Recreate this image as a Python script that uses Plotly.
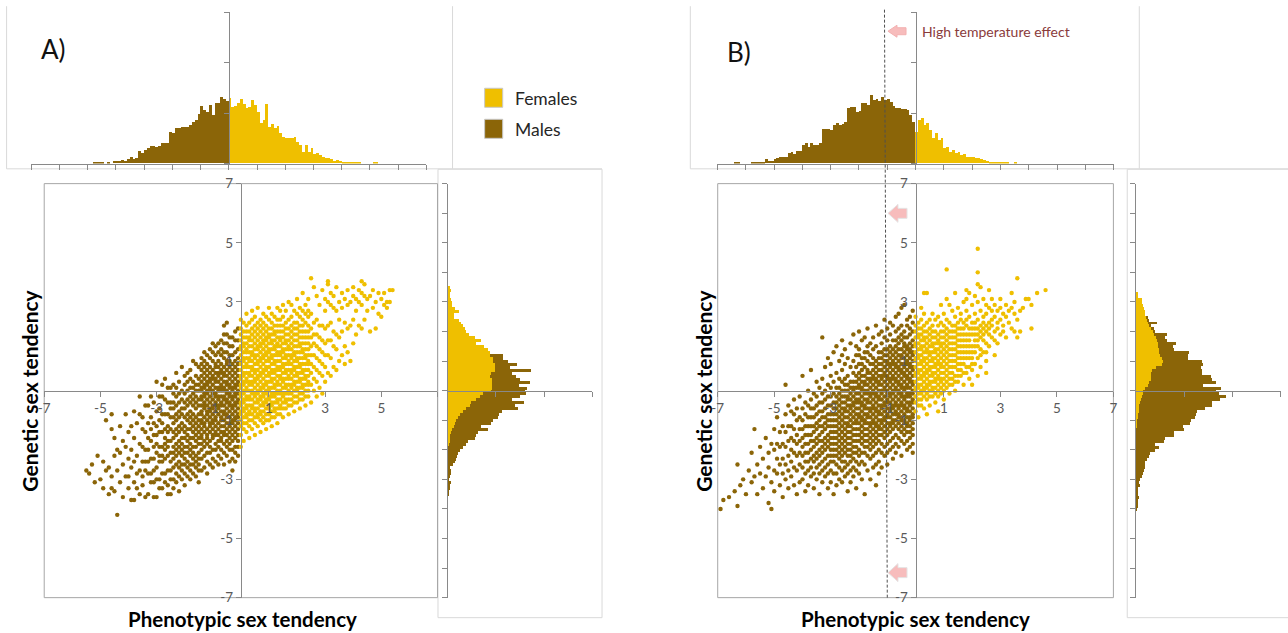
import numpy as np
import plotly.graph_objects as go

# figure size; the page is captured with an 8px body margin and slightly rescaled,
# so picture pixel T maps to figure pixel T/S - OFF
FW, FH = 1288, 633
OFF = 8
SX, SY = 0.989, 0.974

YELLOW = "#EFBF00"
BROWN = "#8B6508"
AXIS = "#898989"
FRAME = "#A6A6A6"
BOX = "#D9D9D9"
FONT = "Lato, 'Open Sans', sans-serif"

# ---------------- tick labels ----------------
SC_TICKS = [-7, -5, -3, -1, 1, 3, 5, 7]
A_X_TICKTEXT = ["-7", "-5", "-3", "-1", "1", "3", "5", ""]
B_X_TICKTEXT = ["-7", "-5", "-3", "-1", "1", "3", "5", "7"]
Y_TICKTEXT = ["-7", "-5", "-3", "-1", "1", "3", "5", "7"]

# ---------------- marginal histograms (bin width 0.1) ----------------
A_TOP_MALE_START = -4.8
A_TOP_MALE = [3, 3, 3, 2, 0, 3, 0, 8, 8, 8,
              10, 8, 12, 20, 12, 15, 37, 30, 40, 45,
              52, 52, 50, 52, 60, 60, 60, 95, 90, 105,
              105, 108, 110, 110, 115, 125, 130, 148, 172, 160,
              155, 175, 145, 180, 182, 200, 192, 188]
A_TOP_FEMALE_START = 0.0
A_TOP_FEMALE = [195, 168, 172, 180, 192, 178, 165, 168, 190, 175,
                155, 120, 130, 178, 110, 118, 105, 112, 92, 80,
                75, 75, 75, 80, 65, 55, 35, 55, 35, 45,
                28, 30, 25, 18, 15, 15, 12, 8, 10, 6,
                5, 3, 5, 3, 2, 2, 3, 0, 0, 0,
                0, 2, 2]

B_TOP_MALE_START = -6.5
B_TOP_MALE = [0, 3, 3, 0, 0, 0, 0, 3, 4, 3,
              3, 5, 12, 8, 8, 12, 15, 20, 18, 18,
              30, 35, 28, 38, 38, 55, 60, 50, 62, 55,
              55, 60, 103, 103, 103, 100, 115, 120, 115, 118,
              125, 165, 170, 168, 155, 158, 180, 182, 175, 205,
              190, 192, 188, 198, 190, 192, 185, 172, 165, 165,
              163, 163, 160, 145, 125]
B_TOP_FEMALE_START = 0.0
B_TOP_FEMALE = [95, 130, 135, 115, 120, 100, 75, 90, 70, 75,
                45, 50, 35, 40, 30, 35, 25, 28, 20, 18,
                18, 15, 15, 12, 10, 8, 5, 5, 3, 5,
                3, 2, 2, 0, 0, 4]

A_RIGHT_FIRST = -3.5
A_RIGHT_FEMALE = [0] * 17 + [3, 5, 7, 7, 10, 13, 17, 20, 25, 30,
                             35, 45, 55, 65, 70, 85, 95, 105, 130, 133,
                             133, 133, 133, 127, 130, 140, 140, 140, 135, 135,
                             125, 125, 120, 107, 85, 100, 80, 62, 55, 50,
                             45, 40, 33, 17, 17, 33, 20, 13, 12, 9,
                             7, 5, 10, 7]
A_RIGHT_MALE = [1, 3, 5, 7, 10, 3, 5, 8, 10, 7,
                15, 20, 23, 27, 30, 35, 45, 52, 55, 73,
                78, 80, 107, 83, 110, 110, 120, 118, 115, 155,
                135, 157, 105, 120, 128, 100, 102, 80, 112, 82,
                76, 60, 107, 45, 67, 45, 28, 38, 0, 0] + [0] * 21

B_RIGHT_FIRST = -4.0
B_RIGHT_FEMALE = [0] * 28 + [2, 3, 4, 6, 7, 8, 8, 10, 12, 14,
                             18, 20, 22, 28, 35, 40, 45, 46, 46, 48,
                             60, 78, 80, 78, 72, 70, 68, 66, 65, 62,
                             60, 55, 50, 46, 40, 36, 33, 30, 28, 27,
                             25, 22, 18, 18, 6, 5]
B_RIGHT_MALE = [1, 3, 4, 6, 10, 3, 4, 6, 13, 8,
                13, 18, 20, 23, 26, 28, 28, 33, 38, 43,
                58, 68, 58, 83, 86, 113, 113, 143, 138, 157,
                159, 170, 171, 175, 198, 216, 216, 236, 252, 228,
                218, 225, 165, 198, 181, 177, 152, 148, 133, 122,
                116, 78, 84, 88, 45, 45, 53, 31, 28, 38,
                6, 7, 6, 27, 3, 6, 0, 0, 0, 0,
                0, 0, 0, 0]

# ---------------- scatter points, in tenths:  "x: y y y ..." ----------------
A_MALE_PTS = """
-55: -27
-54: -28
-53: -25
-52: -31
-51: -22
-50: -30
-49: -24 -33
-48: -27 -10
-47: -26 -35
-46: -8 -13 -33 -29
-45: -16 -34 -22
-44: -42 -20 -27
-43: -21 -31 -12
-42: -25 -17 -36
-41: -19 -29 -8
-40: -29 -14 -23 -33
-39: -12 -26 -37 -20
-38: -16 -31 -37 -24 -7
-37: -22 -33 -28 -11
-36: -8 -27 -18 -35 -2
-35: -19 -29 -24 -13 -32 -9
-34: -24 -14 -36 -5 -20 -27
-33: -35 -20 -5 -28 -11 -16 -24
-32: -2 -17 -28 -23 -31 -9 -13
-31: -31 -11 -23 -19 -36 -4 -15 -27
-30: -36 -26 -15 -7 3 -21 -30 -12 -18
-29: -19 -30 -10 -24 -2 -33 -14 -22 -6
-28: -24 -33 -2 -14 -19 -8 -28 2 -11 -22
-27: -28 -18 -8 4 -23 -13 -31 -3 -16 -20
-26: -22 -32 -12 -4 -27 -17 1 -8 -35 -14 -19
-25: -27 -17 -9 1 -35 -21 -13 -4 -30 -24 -6
-24: -33 -30 -26 -23 -21 -19 -16 -14 -11 -9 -6 -4 -1 2
-23: -31 -28 -25 -22 -20 -18 -15 -13 -10 -8 -5 -2 1 6
-22: -34 -29 -26 -24 -21 -19 -17 -14 -12 -9 -7 -4 -1 3
-21: -30 -27 -25 -22 -20 -18 -16 -13 -11 -8 -6 -3 0 8
-20: -32 -28 -25 -23 -21 -19 -16 -14 -12 -9 -6 -4 -1 2 5
-19: -29 -26 -24 -21 -19 -17 -15 -13 -10 -8 -5 -3 0 3 6
-18: -30 -27 -25 -22 -20 -18 -16 -13 -11 -9 -7 -4 -2 1 4 7
-17: -28 -25 -23 -21 -19 -16 -14 -12 -10 -8 -5 -3 -1 1 3 10
-16: -29 -26 -24 -22 -19 -17 -15 -13 -11 -9 -6 -4 -2 0 2 5 9
-15: -31 -27 -25 -23 -21 -18 -16 -14 -12 -10 -8 -5 -3 0 2 4 8
-14: -27 -23 -20 -18 -16 -15 -13 -11 -10 -8 -7 -5 -3 -2 0 1 3 5 7 9 11
-13: -26 -22 -19 -17 -14 -12 -11 -9 -6 -5 -4 -2 -1 1 2 4 6 8 10 13
-12: -28 -24 -21 -18 -16 -15 -13 -10 -8 -7 -5 -3 -1 0 2 3 5 7 9 12
-11: -25 -21 -19 -17 -14 -12 -11 -9 -7 -6 -4 -2 0 1 3 4 6 8 11 14
-10: -26 -23 -20 -16 -15 -13 -11 -10 -8 -6 -5 -3 -1 0 2 4 5 7 10 13 16
-9: -24 -20 -18 -15 -14 -12 -10 -9 -7 -5 -4 -2 -1 1 3 4 6 8 9 12 15
-8: -25 -22 -19 -17 -15 -13 -11 -8 -6 -5 -3 -2 0 1 3 5 6 8 10 13 16
-7: -23 -20 -17 -16 -14 -12 -10 -9 -7 -5 -4 -2 0 1 2 4 6 7 9 12 14 17
-6: -25 -21 -18 -15 -14 -12 -10 -8 -7 -5 -3 -2 0 1 3 5 6 8 11 13 16 19 22
-5: -22 -19 -17 -15 -13 -11 -9 -8 -6 -4 -3 -1 0 2 3 5 7 9 10 13 16 19 23
-4: -24 -20 -18 -16 -14 -12 -11 -9 -7 -5 -4 -2 -1 1 2 4 6 8 10 12 15 18
-3: -27 -23 -20 -17 -15 -13 -11 -10 -8 -6 -5 -3 -2 0 1 3 5 7 9 12 15 18
-2: -24 -21 -19 -16 -14 -12 -10 -9 -7 -5 -4 -2 -1 1 2 4 6 8 10 13 17 20
-1: -22 -19 -17 -15 -13 -11 -9 -8 -6 -4 -3 -1 0 2 3 5 7 9 11 14 17 21
"""

A_FEMALE_PTS = """
0: -19 -15 -12 -10 -8 -7 -5 -4 -2 -1 1 2 4 5 7 9 10 12 14 15 17 19 21 24
1: -17 -13 -11 -9 -7 -6 -4 -3 -1 0 2 3 5 6 8 10 11 13 15 16 18 20 23
2: -14 -11 -9 -8 -6 -5 -3 -2 0 1 3 4 6 8 9 11 13 14 16 18 20 22 26
3: -16 -12 -10 -8 -7 -5 -3 -2 0 2 3 5 6 8 10 11 13 15 17 18 20 23
4: -13 -10 -8 -6 -5 -3 -1 0 2 3 5 7 8 10 12 13 15 17 19 21 24 27
5: -15 -11 -9 -7 -6 -4 -2 -1 1 3 4 6 7 9 11 12 14 16 18 20 22 25
6: -12 -9 -8 -6 -4 -3 -1 0 2 4 5 7 9 10 12 14 15 17 19 21 23 28
7: -14 -10 -8 -7 -5 -3 -2 0 1 3 5 6 8 10 11 13 15 16 18 20 22 24
8: -11 -9 -7 -5 -4 -2 -1 1 2 4 6 7 9 11 12 14 16 17 19 21 23 26
9: -13 -10 -8 -6 -4 -3 -1 0 2 3 5 7 8 10 12 13 15 17 18 20 22 25
10: -10 -8 -6 -5 -3 -2 0 1 3 5 6 8 10 11 13 14 16 18 19 21 24 28
11: -12 -9 -7 -5 -4 -2 -1 1 3 4 6 7 9 11 12 14 16 17 19 21 23 26
12: -9 -7 -6 -4 -2 -1 1 2 4 6 7 9 10 12 14 15 17 19 20 22 25
13: -11 -8 -6 -4 -3 -1 0 2 3 5 7 8 10 12 13 15 16 18 20 22 24 28
14: -8 -6 -5 -3 -1 0 2 4 5 7 8 10 12 13 15 17 18 20 22 24 27
15: -9 -6 -4 -2 -1 1 3 4 6 8 9 11 13 14 16 18 20 22 25 29
16: -6 -4 -3 -1 1 2 4 6 7 9 11 12 14 16 17 19 21 23 27
17: -8 -5 -3 -1 0 2 4 5 7 9 10 12 14 15 17 19 21 24 30
18: -5 -3 -1 1 2 4 6 7 9 11 12 14 16 18 20 22 25 29
19: -7 -4 -2 0 2 3 5 7 8 10 12 13 15 17 19 21 23 27
20: -4 -2 0 1 3 5 6 8 10 11 13 15 17 19 21 23 26 31
21: -6 -3 -1 1 3 4 6 8 9 11 13 15 16 18 20 22 25 28
22: -3 -1 1 2 4 6 7 9 11 13 14 16 18 20 22 24 27 33
23: -5 -2 0 2 4 5 7 9 11 12 14 16 18 20 23 26 29
24: -2 0 2 3 5 7 9 10 12 14 16 18 20 22 25 27 31
25: -4 2 6 9 12 15 18 21 26 38
26: 0 4 8 12 16 19 23 35
27: -2 3 7 11 15 19 24 32
28: 1 6 10 14 18 22 29
29: -1 5 9 13 17 22 34
30: 3 8 12 16 21 27 31
31: 6 12 17 22 30 36 37
32: 5 11 17 23 29 33
33: 8 15 20 28 32
34: 7 14 19 27 35
35: 10 18 24 30
36: 12 20 28 33
37: 9 15 23 31
38: 13 21 29 34
39: 10 22 30
40: 16 24 32 35
41: 19 27 31
42: 22 30 34
43: 21 29 37 33
44: 24 32 36
45: 27 31
46: 32 20
47: 28 34
48: 30 21
49: 33 26
50: 25 31
51: 29 33
52: 30 28
53: 34 30
54: 34
"""

B_MALE_PTS = """
-69: -40
-68: -37
-66: -36
-64: -34
-63: -39 -25
-62: -32
-61: -30
-60: -35
-59: -27
-58: -21 -31
-57: -13 -29
-56: -25 -35
-55: -28 -19
-54: -33 -23
-53: -16 -29
-52: -26 -21 -38
-51: -40 -18 -31
-50: -34 -27 -20 -13
-49: -28 -23 -18 -9
-48: -32 -25 -19 -14
-47: -36 -28 -23 -18 -12
-46: -30 -25 -19 -14 -8 2
-45: -33 -27 -22 -17 -12 -5
-44: -29 -24 -20 -16 -12 -7
-43: -32 -26 -21 -17 -13 -8 -3
-42: -35 -27 -22 -18 -15 -10 -6
-41: -31 -25 -21 -17 -13 -9 -2
-40: -30 -26 -22 -19 -16 -13 -10 -6 5
-39: -34 -28 -24 -21 -18 -15 -12 -8 -4
-38: -32 -27 -24 -21 -18 -15 -12 -9 -5 0
-37: -29 -26 -23 -20 -17 -15 -12 -9 -6 -3 7
-36: -33 -28 -24 -22 -19 -17 -14 -12 -9 -6 -1
-35: -30 -26 -23 -21 -18 -16 -13 -11 -8 -5 -2 3
-34: -35 -28 -25 -22 -20 -17 -15 -12 -10 -7 -4 1
-33: -31 -27 -24 -21 -19 -17 -14 -12 -9 -7 -4 -1 4 18
-32: -29 -26 -23 -20 -18 -16 -13 -11 -9 -6 -3 0 8
-31: -33 -28 -25 -22 -19 -17 -15 -12 -10 -8 -5 -2 2 11
-30: -31 -27 -24 -22 -20 -18 -16 -14 -12 -10 -8 -5 -2 1 5 9
-29: -35 -28 -24 -22 -20 -18 -16 -14 -12 -10 -8 -6 -4 -1 3 13
-28: -32 -28 -25 -22 -20 -18 -16 -14 -12 -10 -8 -6 -4 -2 1 6 15
-27: -30 -26 -23 -21 -19 -17 -15 -13 -11 -9 -7 -5 -3 -1 1 4 10
-26: -31 -27 -24 -22 -20 -18 -16 -14 -12 -10 -8 -6 -4 -2 0 3 7 12 17
-25: -29 -26 -24 -21 -19 -17 -15 -13 -11 -9 -7 -6 -4 -2 0 2 4 9 14
-24: -34 -28 -25 -22 -20 -18 -16 -14 -12 -11 -9 -7 -5 -3 -2 0 2 5 11
-23: -31 -27 -24 -22 -20 -18 -16 -14 -12 -10 -8 -6 -5 -3 -1 1 3 8 16
-22: -29 -26 -23 -21 -19 -17 -15 -13 -11 -9 -7 -5 -4 -2 0 1 3 6 10 19
-21: -33 -27 -24 -21 -19 -17 -15 -13 -11 -10 -8 -6 -4 -3 -1 1 3 5 8 12 15
-20: -28 -25 -22 -20 -17 -15 -13 -11 -9 -8 -6 -4 -3 -1 1 2 4 6 9 12 14 20
-19: -30 -24 -21 -18 -16 -14 -12 -10 -9 -7 -5 -4 -2 0 1 3 5 7 9 11 17
-18: -35 -25 -21 -19 -17 -15 -13 -11 -10 -8 -6 -5 -3 -1 0 2 3 5 8 11 13 18
-17: -27 -22 -19 -17 -15 -13 -11 -9 -8 -6 -4 -3 -1 0 2 4 6 7 10 13 15 21
-16: -30 -23 -20 -18 -16 -14 -12 -11 -9 -7 -6 -4 -2 -1 1 3 4 6 9 12 16
-15: -26 -22 -19 -17 -15 -13 -11 -10 -8 -6 -5 -3 -1 0 2 4 5 7 9 11 14 18
-14: -32 -25 -21 -18 -16 -14 -12 -11 -9 -7 -6 -4 -2 -1 1 3 4 6 8 10 15 22
-13: -28 -24 -20 -17 -15 -13 -12 -10 -8 -7 -5 -3 -2 0 2 3 5 7 9 11 13 19
-12: -26 -21 -18 -15 -13 -11 -10 -8 -6 -5 -3 -1 0 2 4 5 7 9 11 13 16 20
-11: -22 -19 -16 -14 -12 -10 -9 -7 -5 -4 -2 0 1 3 5 6 8 10 12 14 18 24
-10: -25 -21 -18 -15 -13 -11 -9 -8 -6 -4 -3 -1 0 2 4 5 7 9 10 12 14 17 21
-9: -20 -17 -14 -12 -11 -9 -7 -6 -4 -2 -1 1 3 4 6 8 9 11 13 15 19 23
-8: -23 -19 -16 -13 -11 -10 -8 -6 -5 -3 -1 0 2 4 5 7 9 10 12 14 17 22
-7: -21 -18 -15 -12 -10 -8 -7 -5 -4 -2 0 1 3 4 6 8 9 11 13 15 17 20 25
-6: -19 -16 -13 -11 -9 -8 -6 -5 -3 -1 0 2 3 5 7 8 10 12 14 16 18 21 26
-5: -22 -17 -14 -12 -10 -9 -7 -5 -4 -2 -1 1 2 4 6 7 9 11 12 14 17 19 22 28
-4: -18 -15 -13 -11 -10 -8 -6 -5 -3 -2 0 1 3 5 6 8 9 11 13 15 16 18 20 29
-3: -20 -17 -14 -12 -11 -9 -7 -6 -4 -2 -1 1 2 4 5 7 9 10 12 14 15 18 22 24
-2: -19 -16 -14 -12 -10 -9 -7 -5 -4 -2 -1 1 3 4 6 8 9 11 13 14 16 19 21 25
-1: -21 -18 -15 -13 -11 -9 -8 -6 -4 -3 -1 0 2 3 5 7 8 10 12 13 15 17 20 23 27
"""

B_FEMALE_PTS = """
0: -7 -4 -2 0 1 3 5 6 8 10 11 13 15 16 18 20 22 25
1: -9 -5 -3 -1 1 2 4 6 7 9 11 12 14 16 18 19 21 23
2: -5 -3 -1 0 2 4 5 7 9 10 12 14 15 17 19 21 24 28
3: -6 -2 0 1 3 5 6 8 10 11 13 15 17 18 20 22 26 33
4: -8 -3 -1 1 2 4 6 7 9 11 13 14 16 18 20 23 33
5: -5 -2 0 2 3 5 7 8 10 12 13 15 17 19 21 24
6: -2 0 1 3 5 6 8 10 11 13 15 16 18 20 22 26
7: -4 -1 1 3 4 6 8 9 11 13 14 16 18 20 24
8: -7 -2 0 2 4 5 7 9 10 12 14 16 17 19 22 25
9: -1 1 3 4 6 8 9 11 13 15 16 18 20 23 29
10: -3 0 2 4 6 8 10 12 14 16 18 20 22 26
11: 1 3 5 7 9 11 13 15 17 19 21 24 31 41
12: -1 2 4 6 8 10 12 14 16 18 20 23 29
13: 2 4 6 8 10 12 14 16 18 20 22 27
14: 0 3 5 8 10 12 14 16 18 20 22 25 33
15: 3 5 7 9 11 13 15 17 19 21 23 28
16: 5 7 9 11 13 15 17 19 21 24 26
17: 2 6 9 11 13 15 17 19 21 23 30
18: 6 8 11 13 15 17 19 22 24 27 31 34
19: 4 8 11 13 15 17 19 21 25 33
20: 2 7 9 11 13 15 19 21 23 29
21: 9 13 15 17 19 21 23 26 32
22: 5 11 15 17 19 21 24 30 36 40 48
23: 8 12 14 18 20 22 27 35
24: 13 17 19 21 23 25 31
25: 6 10 13 16 20 22 26 29
26: 15 19 21 23 28 34
27: 18 22 24 27 31
28: 12 17 20 25 29
29: 16 21 23 27
30: 19 24 28 31
31: 20 22 26
32: 18 25 29
33: 23 27
34: 21 28 33
35: 20 26 30
36: 18 24 38
37: 20 27
38: 28
39: 31
40: 31
41: 21 29
43: 33
46: 34
"""


def parse_pts(text):
    xs, ys = [], []
    for line in text.strip().splitlines():
        k, v = line.split(":")
        for t in v.split():
            xs.append(int(k) / 10.0)
            ys.append(int(t) / 10.0)
    return xs, ys


def centres(start, n):
    return np.round(start + 0.05 + 0.1 * np.arange(n), 3)


def rcentres(first, n):
    return np.round(first + 0.1 * np.arange(n), 3)


# picture pixel -> figure paper coordinate
def PX(x):
    return (x / SX - OFF) / FW


def PY(y):
    return 1 - (y / SY - OFF) / FH


def mid(d):
    return (d[0] + d[1]) / 2


# ---------------- domains ----------------
SC_Y = [PY(597), PY(183.3)]
A_SC_X = [PX(46), PX(438)]
B_SC_X = [PX(717.3), PX(1111.7)]
TOP_Y = [PY(163.3), PY(12)]
A_TOP_X = [PX(33), PX(427)]
B_TOP_X = [PX(717), PX(1112)]
A_R_X = [PX(448.3), PX(592.3)]
B_R_X = [PX(1134), PX(1278.3)]

fig = go.Figure()

MS = 4.4
for pts, col, ax in [(A_MALE_PTS, BROWN, ("x", "y")), (A_FEMALE_PTS, YELLOW, ("x", "y")),
                     (B_MALE_PTS, BROWN, ("x4", "y4")), (B_FEMALE_PTS, YELLOW, ("x4", "y4"))]:
    xs, ys = parse_pts(pts)
    fig.add_trace(go.Scatter(x=xs, y=ys, mode="markers", xaxis=ax[0], yaxis=ax[1],
                             marker=dict(size=MS, color=col, line=dict(width=0)),
                             hoverinfo="skip"))

for start, vals, col, ax in [(A_TOP_MALE_START, A_TOP_MALE, BROWN, ("x2", "y2")),
                             (A_TOP_FEMALE_START, A_TOP_FEMALE, YELLOW, ("x2", "y2")),
                             (B_TOP_MALE_START, B_TOP_MALE, BROWN, ("x5", "y5")),
                             (B_TOP_FEMALE_START, B_TOP_FEMALE, YELLOW, ("x5", "y5"))]:
    fig.add_trace(go.Bar(x=centres(start, len(vals)), y=vals, width=0.1, xaxis=ax[0], yaxis=ax[1],
                         marker=dict(color=col, line=dict(width=0)), hoverinfo="skip"))

for first, vals, col, ax in [(A_RIGHT_FIRST, A_RIGHT_FEMALE, YELLOW, ("x3", "y3")),
                             (A_RIGHT_FIRST, A_RIGHT_MALE, BROWN, ("x3", "y3")),
                             (B_RIGHT_FIRST, B_RIGHT_FEMALE, YELLOW, ("x6", "y6")),
                             (B_RIGHT_FIRST, B_RIGHT_MALE, BROWN, ("x6", "y6"))]:
    fig.add_trace(go.Bar(y=rcentres(first, len(vals)), x=vals, width=0.1, orientation="h",
                         xaxis=ax[0], yaxis=ax[1],
                         marker=dict(color=col, line=dict(width=0)), hoverinfo="skip"))

tickfont = dict(family=FONT, size=13.5, color="#595959")
common = dict(showgrid=False, zeroline=False, showline=True, linecolor=AXIS, linewidth=1,
              ticks="outside", tickcolor=AXIS, tickwidth=1, fixedrange=True)


def sc_x(dom, ttext):
    return dict(common, domain=dom, range=[-7, 7], anchor="free", position=mid(SC_Y),
                ticklen=5, tickvals=SC_TICKS, ticktext=ttext, tickfont=tickfont)


def sc_y(xdom):
    return dict(common, domain=SC_Y, range=[-7, 7], anchor="free", position=mid(xdom),
                ticklen=5, tickvals=SC_TICKS, ticktext=Y_TICKTEXT, tickfont=tickfont)


def top_x(dom, yname):
    return dict(common, domain=dom, range=[-7, 7], anchor=yname, ticklen=5,
                tickvals=list(range(-7, 8)), showticklabels=False)


def top_y(xdom):
    return dict(common, domain=TOP_Y, range=[0, 453], anchor="free", position=mid(xdom),
                ticklen=5, tickvals=[0, 151, 302, 453], showticklabels=False)


def r_x(dom):
    return dict(common, domain=dom, range=[0, 432], anchor="free", position=mid(SC_Y),
                ticklen=5, tickvals=[0, 144, 288, 432], showticklabels=False)


def r_y(xname):
    return dict(common, domain=SC_Y, range=[-7, 7], anchor=xname, ticklen=5,
                tickvals=list(range(-7, 8)), showticklabels=False)


shapes = []


def line(x0, y0, x1, y1, color=BOX, width=1):
    shapes.append(dict(type="line", xref="paper", yref="paper", x0=PX(x0), y0=PY(y0),
                       x1=PX(x1), y1=PY(y1), line=dict(color=color, width=width), layer="below"))


def rect(x0, y0, x1, y1, fill="white", color=BOX, layer="below", width=1):
    shapes.append(dict(type="rect", xref="paper", yref="paper", x0=PX(x0), y0=PY(y0),
                       x1=PX(x1), y1=PY(y1), fillcolor=fill,
                       line=dict(color=color, width=width), layer=layer))


# outer chart boxes
line(8.5, 6, 8.5, 168.5)
line(8.5, 168.5, 602, 168.5)
line(453, 6, 453, 168.5)
rect(438.5, 169, 602, 617)
line(690, 6, 690, 168.5)
line(690, 168.5, 1288, 168.5)
line(1137.5, 6, 1137.5, 168.5)
rect(1125.5, 169, 1300, 617)

# scatter plot frames
for xr, yr in [("x domain", "y domain"), ("x4 domain", "y4 domain")]:
    shapes.append(dict(type="rect", xref=xr, yref=yr, x0=0, y0=0, x1=1, y1=1,
                       line=dict(color=FRAME, width=1), layer="below"))

# legend swatches
rect(485, 88, 503, 107, fill=YELLOW, color="#C8C8C8", layer="above")
rect(485, 119, 503, 138, fill=BROWN, color="#C8C8C8", layer="above")

# dashed line at phenotypic = -1 (panel B)
shapes.append(dict(type="line", xref="x4", yref="paper", x0=-1.0, y0=PY(597), x1=-1.1, y1=PY(9),
                   line=dict(color="#505050", width=1, dash="3px,2px"), layer="above"))


def arrow(cy, head, shaft, x_tip=887, x_base=896, x_end=905, outline="#F3B1B1"):
    pts = [(x_tip, cy), (x_base, cy - head), (x_base, cy - shaft), (x_end, cy - shaft),
           (x_end, cy + shaft), (x_base, cy + shaft), (x_base, cy + head)]
    path = "M " + " L ".join(f"{PX(a):.5f},{PY(b):.5f}" for a, b in pts) + " Z"
    shapes.append(dict(type="path", xref="paper", yref="paper", path=path,
                       fillcolor="#F7BCBC", line=dict(color=outline, width=1), layer="above"))


arrow(31, 6, 3.5)
arrow(213, 9, 5, x_base=897, x_end=906, outline="#E4E4E4")
arrow(572, 9, 5, x_base=897, x_end=906, outline="#E4E4E4")

ann = []


def text(x, y, s, size, color="#000000", xanchor="center", angle=0, yanchor="middle"):
    ann.append(dict(x=PX(x), y=PY(y), xref="paper", yref="paper", text=s, showarrow=False,
                    xanchor=xanchor, yanchor=yanchor, textangle=angle, borderpad=0,
                    font=dict(family=FONT, size=size, color=color)))


text(42, 49, "A)", 26, "#111111", xanchor="left")
text(726, 52, "B)", 26, "#111111", xanchor="left")
text(514, 98, "Females", 17.5, "#262626", xanchor="left")
text(514, 129, "Males", 17.5, "#262626", xanchor="left")
text(920, 31, "High temperature effect", 14, "#8A3B3B", xanchor="left")
text(31, 390, "<b>Genetic sex tendency</b>", 21, angle=-90)
text(703, 390, "<b>Genetic sex tendency</b>", 21, angle=-90)
# x titles sit just below the "-7" tick labels
text(243.5, 605.5, "<b>Phenotypic sex tendency</b>", 20.5, yanchor="top")
text(914, 605.5, "<b>Phenotypic sex tendency</b>", 20.5, yanchor="top")

fig.update_layout(
    width=FW, height=FH, margin=dict(l=0, r=0, t=0, b=0),
    paper_bgcolor="white", plot_bgcolor="rgba(0,0,0,0)",
    showlegend=False, barmode="stack", bargap=0,
    font=dict(family=FONT),
    xaxis=sc_x(A_SC_X, A_X_TICKTEXT), yaxis=sc_y(A_SC_X),
    xaxis2=top_x(A_TOP_X, "y2"), yaxis2=top_y(A_TOP_X),
    xaxis3=r_x(A_R_X), yaxis3=r_y("x3"),
    xaxis4=sc_x(B_SC_X, B_X_TICKTEXT), yaxis4=sc_y(B_SC_X),
    xaxis5=top_x(B_TOP_X, "y5"), yaxis5=top_y(B_TOP_X),
    xaxis6=r_x(B_R_X), yaxis6=r_y("x6"),
    shapes=shapes, annotations=ann,
)

fig.write_html("out.html")
